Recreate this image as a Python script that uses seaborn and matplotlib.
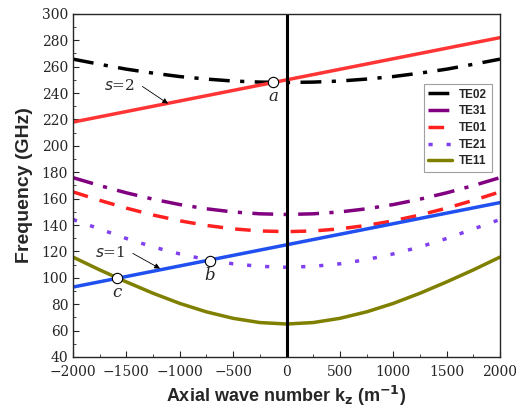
import numpy as np
import pandas as pd
import matplotlib
matplotlib.use("Agg")
import matplotlib.pyplot as plt
import seaborn as sns
from matplotlib.ticker import MultipleLocator

# wave number grid (m^-1)
kz = [-2000, -1750, -1500, -1250, -1000, -750, -500, -250, 0,
      250, 500, 750, 1000, 1250, 1500, 1750, 2000]

# dispersion curves (GHz), symmetric about kz=0
half_te11 = [65.0, 66.1, 69.3, 74.2, 80.6, 88.3, 96.9, 106.0, 115.7]
half_te21 = [108.0, 108.7, 110.6, 113.8, 118.1, 123.4, 129.8, 137.0, 144.2]
half_te01 = [135.0, 135.5, 137.1, 139.7, 143.2, 147.6, 152.8, 158.7, 165.1]
half_te31 = [148.0, 148.5, 149.9, 152.3, 155.5, 159.6, 164.4, 169.9, 175.9]
half_te02 = [248.0, 248.3, 249.1, 250.6, 252.5, 255.1, 258.1, 261.8, 265.7]

def mirror(h):
    return h[:0:-1] + h

te11 = mirror(half_te11)
te21 = mirror(half_te21)
te01 = mirror(half_te01)
te31 = mirror(half_te31)
te02 = mirror(half_te02)

# beam lines
beam_k = [-2000, 0, 2000]
beam_s1 = [93, 125, 157]
beam_s2 = [218, 250, 282]

# intersection points
pt_labels = ["a", "b", "c"]
pt_k = [-125, -720, -1590]
pt_f = [248.5, 113, 99.5]

df = pd.DataFrame({"kz": kz, "TE02": te02, "TE31": te31, "TE01": te01,
                   "TE21": te21, "TE11": te11})

sns.set_style("ticks")
plt.rcParams['font.family'] = ['DejaVu Serif']

fig = plt.figure(figsize=(5.16, 4.08), dpi=100)
ax = fig.add_axes([0.1415, 0.125, 0.8275, 0.841])

styles = {
    "TE02": ("black", (0, (6, 3, 1.2, 3))),
    "TE31": ("#800080", (0, (6, 3, 1.2, 3))),
    "TE01": ("#ff2020", (0, (4.5, 3.5))),
    "TE21": ("#8040f0", (0, (1.2, 4))),
    "TE11": ("#808000", "-"),
}
for name, (col, ls) in styles.items():
    sns.lineplot(data=df, x="kz", y=name, color=col, linestyle=ls,
                 linewidth=2.5, ax=ax, label=name)

sns.lineplot(x=beam_k, y=beam_s1, color="#2050f0", linewidth=2.5, ax=ax)
sns.lineplot(x=beam_k, y=beam_s2, color="#ff3535", linewidth=2.5, ax=ax)

ax.axvline(0, color="black", linewidth=2.2)

ax.scatter(pt_k, pt_f, s=55, facecolor="white", edgecolor="black",
           linewidth=0.8, zorder=5)
for lab, k, f in zip(pt_labels, pt_k, pt_f):
    ax.text(k, f - 11, lab, style="italic", fontsize=12, ha="center",
            va="center", family="DejaVu Serif")

# beam-line labels with leader arrows
ax.text(-1560, 245.5, "$s$=2", fontsize=11, ha="center", va="center")
ax.annotate("", xy=(-1110, 232), xytext=(-1350, 245),
            arrowprops=dict(arrowstyle="-|>", color="black", lw=0.6,
                            mutation_scale=8, shrinkA=0, shrinkB=0))
ax.text(-1650, 119.5, "$s$=1", fontsize=11, ha="center", va="center")
ax.annotate("", xy=(-1185, 107), xytext=(-1440, 118.5),
            arrowprops=dict(arrowstyle="-|>", color="black", lw=0.6,
                            mutation_scale=8, shrinkA=0, shrinkB=0))

ax.set_xlim(-2000, 2000)
ax.set_ylim(40, 300)
ax.xaxis.set_major_locator(MultipleLocator(500))
ax.xaxis.set_minor_locator(MultipleLocator(250))
ax.yaxis.set_major_locator(MultipleLocator(20))
ax.yaxis.set_minor_locator(MultipleLocator(10))
ax.tick_params(which="both", direction="in", top=False, right=False,
               labelsize=10)
ax.tick_params(axis="x", pad=6)
ax.tick_params(which="major", length=4)
ax.tick_params(which="minor", length=2)
for sp in ax.spines.values():
    sp.set_linewidth(1.0)
    sp.set_visible(True)

ax.set_xlabel("Axial wave number k$_\\mathbf{z}$ (m$^\\mathbf{-1}$)",
              family="Liberation Sans", fontweight="bold", fontsize=13,
              labelpad=3)
ax.set_ylabel("Frequency (GHz)", family="Liberation Sans",
              fontweight="bold", fontsize=14, labelpad=6)

leg = ax.legend(loc="upper right", bbox_to_anchor=(0.981, 0.796),
                prop={"family": "Liberation Sans", "weight": "bold",
                      "size": 8.5},
                handlelength=2.0, frameon=True, fancybox=False,
                borderaxespad=0, labelspacing=0.4, handletextpad=0.6,
                borderpad=0.4)
leg.get_frame().set_edgecolor("#888888")
leg.get_frame().set_linewidth(0.8)

fig.savefig("out.png", dpi=100)
